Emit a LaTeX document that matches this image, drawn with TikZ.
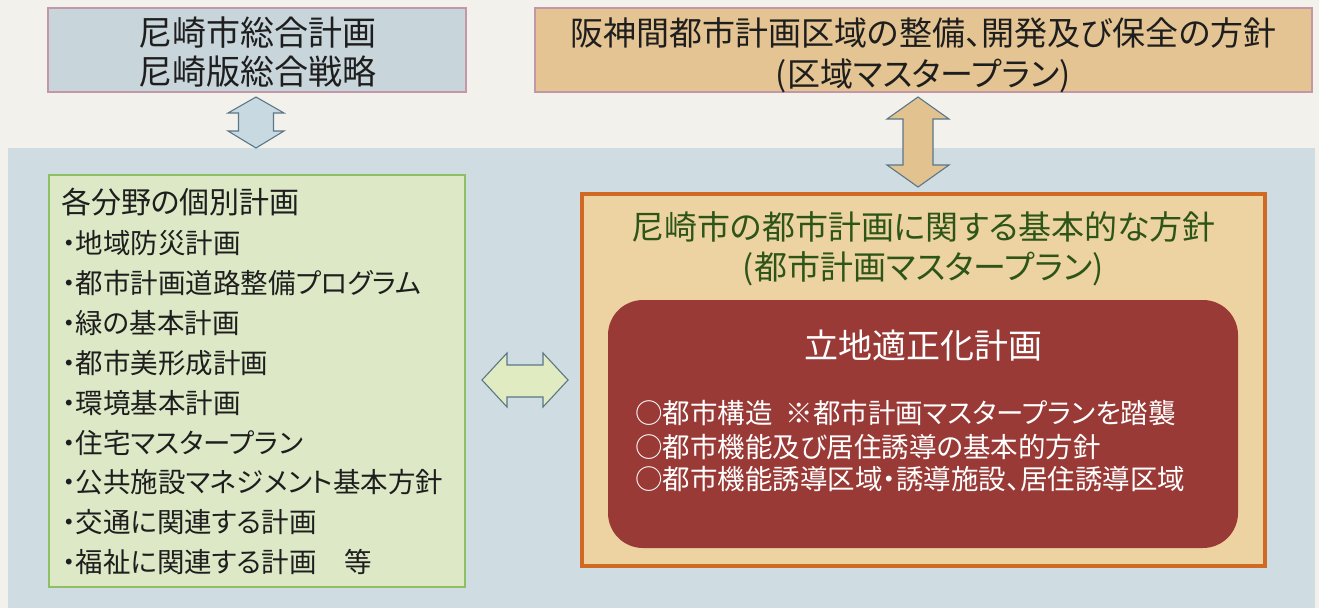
\documentclass[tikz,border=0pt]{standalone}
\usepackage{fontspec}
\newfontfamily\jp[RawFeature=+palt]{Noto Sans CJK JP}
\definecolor{paper}{HTML}{F3F1EC}
\definecolor{panel}{HTML}{CFDCE1}
\definecolor{tlfill}{HTML}{C8D5DB}
\definecolor{tlline}{HTML}{C497A8}
\definecolor{trfill}{HTML}{E4C493}
\definecolor{grfill}{HTML}{DCE8C6}
\definecolor{grline}{HTML}{8CC063}
\definecolor{orfill}{HTML}{EDD3A2}
\definecolor{orline}{HTML}{D06A22}
\definecolor{redfill}{HTML}{9A3A36}
\definecolor{dgreen}{HTML}{2D5518}
\definecolor{ink}{HTML}{1E1E1E}
\definecolor{arrline}{HTML}{5A7788}
\definecolor{arrblue}{HTML}{C9D9E2}
\definecolor{arrtan}{HTML}{E2C28F}
\definecolor{arrgreen}{HTML}{E0EBC2}
\tikzset{
  txt/.style={inner sep=0pt, outer sep=0pt, text=ink, anchor=base},
  boxnode/.style={inner sep=0pt, outer sep=0pt},
  blockarrow/.style={draw=arrline, line width=1.1pt, line join=miter},
}
\newcommand{\fs}[1]{\jp\fontsize{#1}{#1}\selectfont}
\begin{document}
\begin{tikzpicture}[x=1pt,y=-1pt]
\fill[paper] (0,0) rectangle (1319,608);
\useasboundingbox (0,0) rectangle (1319,608);

% big panel
\node[boxnode, fill=panel, minimum width=1307, minimum height=460, anchor=north west] (panel) at (8,148) {};

% top-left box
\node[boxnode, draw=tlline, line width=1.5pt, fill=tlfill, minimum width=418, minimum height=84] (sogo) at (257,50) {};
\node[txt, font=\fs{34}] (sogo1) at (257,45) {尼崎市総合計画};
\node[txt, font=\fs{34}] (sogo2) at (257,84) {尼崎版総合戦略};

% top-right box
\node[boxnode, draw=tlline, line width=1.5pt, fill=trfill, minimum width=777, minimum height=84] (kuiki) at (923.5,50) {};
\node[txt, font=\fs{33}] (kuiki1) at (923.5,45.5) {阪神間都市計画区域の整備、開発及び保全の方針};
\node[txt, font=\fs{33}] (kuiki2) at (923.5,86.5) {(区域マスタープラン)};

% vertical arrows
\draw[blockarrow, fill=arrblue] (256,97) -- (284,113) -- (273.5,113) -- (273.5,131) -- (284,131) -- (256,148) -- (228,131) -- (238.5,131) -- (238.5,113) -- (228,113) -- cycle;
\draw[blockarrow, fill=arrtan] (918,97) -- (949,119) -- (933,119) -- (933,165) -- (949,165) -- (918,187) -- (887,165) -- (903,165) -- (903,119) -- (887,119) -- cycle;

% green box
\node[boxnode, draw=grline, line width=2pt, fill=grfill, minimum width=416, minimum height=412] (kobetsu) at (257,381) {};
\node[txt, anchor=base west, font=\fs{30}] (kobetsu0) at (61,213.4) {各分野の個別計画};
\foreach \t [count=\i] in {・地域防災計画,・都市計画道路整備プログラム,・緑の基本計画,・都市美形成計画,・環境基本計画,・住宅マスタープラン,・公共施設マネジメント基本方針,・交通に関連する計画,・福祉に関連する計画　等}{
  \node[txt, anchor=base west, font=\fs{27.5}] (kobetsu\i) at (62,{253.5+39.9*(\i-1)}) {\t};
}

% horizontal arrow
\draw[blockarrow, fill=arrgreen] (482,380) -- (507,353) -- (507,365) -- (543,365) -- (543,353) -- (568,380) -- (543,407) -- (543,397) -- (507,397) -- (507,407) -- cycle;

% orange box
\node[boxnode, draw=orline, line width=4pt, fill=orfill, minimum width=683, minimum height=372] (toshi) at (923.5,380) {};
\node[txt, text=dgreen, font=\fs{33}] (toshi1) at (923.5,239.5) {尼崎市の都市計画に関する基本的な方針};
\node[txt, text=dgreen, font=\fs{33}] (toshi2) at (923.5,279.5) {(都市計画マスタープラン)};

% red rounded box
\node[boxnode, fill=redfill, rounded corners=35pt, minimum width=630, minimum height=248] (ritchi) at (923,424) {};
\node[txt, text=white, font=\fs{34}] (ritchi0) at (923,358) {立地適正化計画};
\node[txt, text=white, anchor=base west, font=\fs{27.5}] (ritchi1) at (635,423) {○都市構造 \hspace{0.25em}※都市計画マスタープランを踏襲};
\node[txt, text=white, anchor=base west, font=\fs{27.5}] (ritchi2) at (635,457) {○都市機能及び居住誘導の基本的方針};
\node[txt, text=white, anchor=base west, font=\fs{27.5}] (ritchi3) at (635,489) {○都市機能誘導区域・誘導施設、居住誘導区域};
\end{tikzpicture}
\end{document}
